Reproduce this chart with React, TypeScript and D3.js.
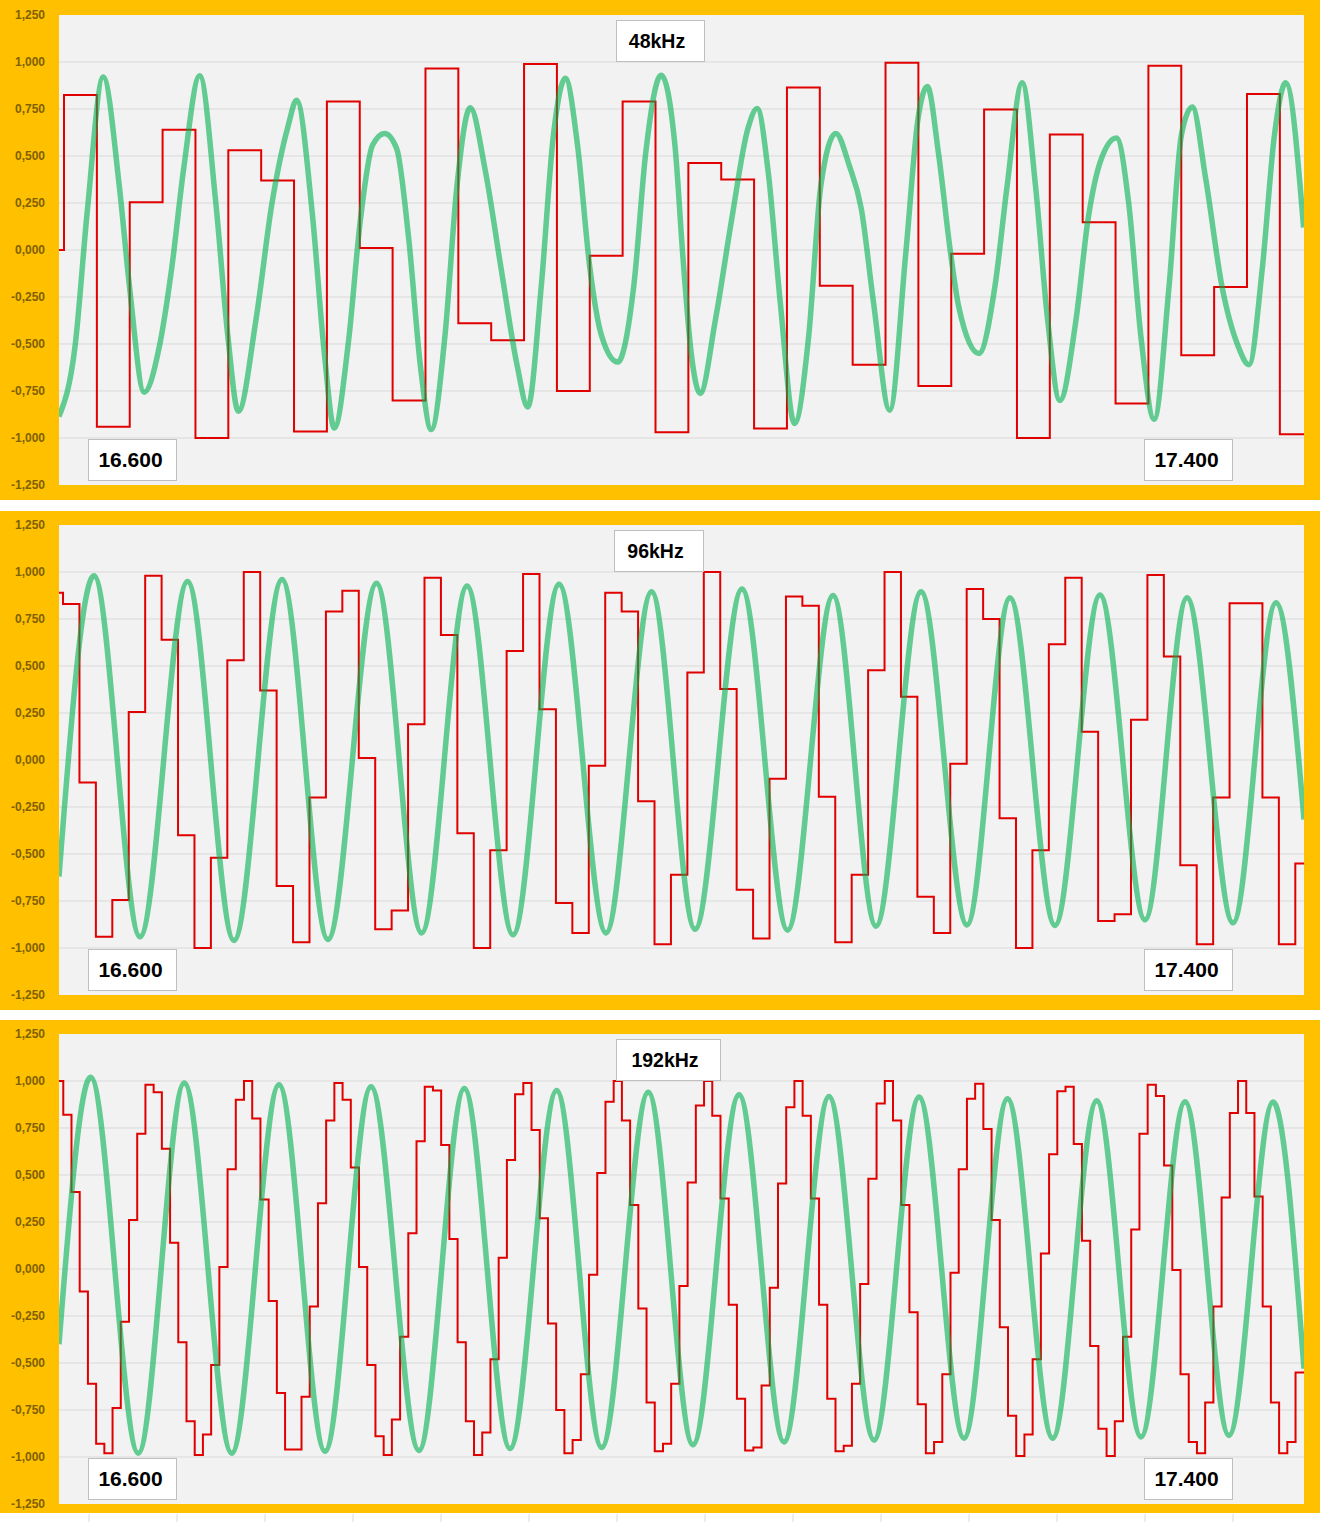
import * as d3 from 'd3';

// y axis values shared by the three panels
const yTicks = [1.25, 1, 0.75, 0.5, 0.25, 0, -0.25, -0.5, -0.75, -1, -1.25];

// held sample values (red staircase), one entry per sample
const held48 = [
  0.0, 0.824, -0.94, 0.254, 0.64, -1.0, 0.53, 0.37, -0.965, 0.79, 0.01, -0.8, 0.966, -0.39, -0.48, 0.99,
  -0.75, -0.03, 0.79, -0.97, 0.463, 0.375, -0.95, 0.865, -0.19, -0.61, 0.996, -0.724, -0.02, 0.747, -1.0,
  0.614, 0.148, -0.817, 0.98, -0.56, -0.197, 0.83, -0.98,
];
const held96 = [
  0.89, 0.83, -0.12, -0.94, -0.745, 0.255, 0.98, 0.64, -0.4, -1.0, -0.52, 0.53, 1.0, 0.37, -0.67, -0.97,
  -0.2, 0.79, 0.9, 0.01, -0.9, -0.8, 0.19, 0.97, 0.665, -0.39, -1.0, -0.48, 0.58, 0.99, 0.27, -0.76, -0.92,
  -0.03, 0.89, 0.79, -0.22, -0.98, -0.61, 0.466, 1.0, 0.377, -0.69, -0.95, -0.1, 0.87, 0.82, -0.195, -0.97,
  -0.61, 0.477, 1.0, 0.336, -0.727, -0.92, -0.02, 0.91, 0.75, -0.31, -1.0, -0.48, 0.616, 0.97, 0.15, -0.857,
  -0.82, 0.214, 0.984, 0.55, -0.56, -0.98, -0.2, 0.834, 0.834, -0.2, -0.98, -0.55,
];
const held192 = [
  1.0, 0.82, 0.41, -0.12, -0.61, -0.93, -0.98, -0.74, -0.28, 0.26, 0.72, 0.98, 0.94, 0.64, 0.14, -0.39,
  -0.81, -0.99, -0.88, -0.51, 0.01, 0.53, 0.9, 1.0, 0.8, 0.37, -0.17, -0.66, -0.96, -0.96, -0.68, -0.2,
  0.35, 0.79, 0.99, 0.9, 0.54, 0.01, -0.51, -0.89, -0.99, -0.8, -0.36, 0.19, 0.68, 0.97, 0.95, 0.66, 0.16,
  -0.39, -0.81, -0.99, -0.87, -0.48, 0.06, 0.58, 0.93, 0.99, 0.74, 0.27, -0.29, -0.75, -0.98, -0.91, -0.56,
  -0.03, 0.51, 0.89, 1.0, 0.79, 0.34, -0.21, -0.71, -0.97, -0.93, -0.61, -0.09, 0.46, 0.87, 1.0, 0.815,
  0.375, -0.19, -0.69, -0.965, -0.95, -0.62, -0.1, 0.455, 0.86, 1.0, 0.815, 0.375, -0.19, -0.69, -0.97,
  -0.94, -0.61, -0.08, 0.48, 0.88, 1.0, 0.79, 0.34, -0.23, -0.72, -0.98, -0.92, -0.56, -0.02, 0.53, 0.905,
  0.985, 0.745, 0.26, -0.31, -0.78, -0.995, -0.88, -0.48, 0.083, 0.61, 0.945, 0.97, 0.665, 0.15, -0.41,
  -0.85, -0.995, -0.81, -0.36, 0.21, 0.72, 0.98, 0.92, 0.55, -0.005, -0.56, -0.92, -0.98, -0.71, -0.2, 0.38,
  0.83, 1.0, 0.83, 0.385, -0.2, -0.71, -0.98, -0.92, -0.55,
];

// analog wave (green), time in 1/192000 s ticks from the left edge
const wave48T = [
  0, 1.96, 3.43, 5.38, 7.34, 8.57, 10.37, 12.23, 13.71, 15.17, 17.13, 19.09, 20.55, 21.83, 23.98, 25.93,
  27.89, 28.92, 30.82, 32.3, 33.51, 35.23, 36.7, 38.16, 39.63, 41.1, 42.57, 44.04, 45.31, 46.98, 48.44,
  50.06, 51.86, 53.82, 55.78, 57.06, 58.71, 60.18, 61.64, 63.12, 64.59, 66.05, 68.01, 69.97, 71.43, 73.3,
  74.99, 75.97, 76.96, 78.04, 79.91, 81.89, 83.86, 84.99, 86.33, 87.8, 89.53, 91.26, 92.73, 94.56, 96.19,
  97.66, 99.15, 101.12, 103.09, 104.57, 105.7, 107.04, 108.51, 109.5, 111.97, 113.94, 115.41, 117.24,
  118.87, 120.34, 121.83, 123.8, 125.27, 126.76, 128.73, 130.21, 131.69, 133.31, 135.13, 136.62, 137.95,
  139.58, 141.55, 143.52, 144.85, 146.47, 147.95, 149.33, 151.5,
];
const wave48V = [
  -0.885, -0.51, 0.2, 0.92, 0.34, -0.19, -0.756, -0.51, -0.1, 0.43, 0.927, 0.25, -0.457, -0.858, -0.37,
  0.25, 0.66, 0.797, 0.2, -0.55, -0.947, -0.49, 0.165, 0.557, 0.62, 0.54, 0.06, -0.635, -0.955, -0.457,
  0.34, 0.756, 0.43, -0.1, -0.617, -0.835, -0.19, 0.61, 0.913, 0.557, -0.084, -0.457, -0.596, -0.19, 0.52,
  0.93, 0.55, -0.05, -0.55, -0.763, -0.37, 0.165, 0.646, 0.753, 0.415, -0.28, -0.923, -0.457, 0.34, 0.62,
  0.45, 0.22, -0.28, -0.852, -0.01, 0.7, 0.87, 0.52, -0.01, -0.297, -0.55, -0.19, 0.34, 0.89, 0.34, -0.37,
  -0.8, -0.37, 0.165, 0.47, 0.596, 0.25, -0.457, -0.9, -0.19, 0.61, 0.76, 0.38, -0.19, -0.51, -0.61, -0.1,
  0.61, 0.89, 0.12,
];
const wave96T = [
  0, 4.26, 9.86, 15.65, 21.3, 27.15, 32.74, 38.65, 44.14, 49.67, 55.27, 60.87, 66.59, 72.13, 77.42, 83.14,
  88.69, 94.22, 99.45, 104.93, 110.53, 115.76, 121.24, 126.72, 132.2, 137.31, 142.91, 148.14, 151.55,
];
const wave96V = [
  -0.62, 0.98, -0.94, 0.95, -0.96, 0.96, -0.955, 0.94, -0.92, 0.925, -0.93, 0.935, -0.92, 0.895, -0.9, 0.91,
  -0.905, 0.875, -0.884, 0.895, -0.877, 0.863, -0.88, 0.877, -0.85, 0.863, -0.866, 0.836, -0.316,
];
const wave192T = [
  0, 3.86, 9.65, 15.25, 21.02, 26.78, 32.38, 37.98, 43.82, 49.34, 54.9, 60.58, 66.06, 71.73, 77.17, 82.78,
  88.25, 93.73, 99.21, 104.69, 110.16, 115.46, 120.96, 126.32, 131.71, 137.07, 142.42, 147.78, 151.55,
];
const wave192V = [
  -0.4, 1.02, -0.98, 0.99, -0.98, 0.98, -0.97, 0.97, -0.965, 0.96, -0.955, 0.95, -0.95, 0.94, -0.935, 0.927,
  -0.92, 0.917, -0.91, 0.915, -0.9, 0.906, -0.9, 0.895, -0.893, 0.89, -0.885, 0.888, -0.53,
];

const startLabel = '16.600';
const endLabel = '17.400';

const SPAN = 151.55; // plot width in ticks
const PLOT_X0 = 59;
const PLOT_X1 = 1304;
const PLOT_H = 470;
const ORANGE = '#FFC000';

const fmt = d3
  .formatLocale({ decimal: ',', thousands: '.', grouping: [3], currency: ['', ''], minus: '-' })
  .format('.3f');

const panels = [
  { title: '48kHz', top: 0, bottom: 500, plotTop: 15, held: held48, step: 4, phase: 0.61, wt: wave48T, wv: wave48V, tx: 616, tw: 88 },
  { title: '96kHz', top: 511, bottom: 1010, plotTop: 525, held: held96, step: 2, phase: 0.49, wt: wave96T, wv: wave96V, tx: 614, tw: 89 },
  { title: '192kHz', top: 1020, bottom: 1513, plotTop: 1034, held: held192, step: 1, phase: 0.52, wt: wave192T, wv: wave192V, tx: 616, tw: 104 },
];

const x = d3.scaleLinear().domain([0, SPAN]).range([PLOT_X0, PLOT_X1]);

function Panel({ p, idx }: { p: (typeof panels)[number]; idx: number }) {
  const y = d3.scaleLinear().domain([-1.25, 1.25]).range([p.plotTop + PLOT_H, p.plotTop]);

  const steps: [number, number][] = p.held.map((v, i) => [i === 0 ? 0 : p.phase + (i - 1) * p.step, v]);
  steps.push([SPAN, p.held[p.held.length - 1]]);
  const red = d3
    .line<[number, number]>()
    .x((d) => x(d[0]))
    .y((d) => y(d[1]))
    .curve(d3.curveStepAfter)(steps);

  const wave = d3
    .line<number>()
    .x((d) => x(d))
    .y((_, i) => y(p.wv[i]))
    .curve(d3.curveMonotoneX)(p.wt);

  const clipId = `plot-clip-${idx}`;
  const boxY = p.plotTop + 424;

  return (
    <g>
      <rect x={0} y={p.top} width={1320} height={p.bottom - p.top} fill={ORANGE} />
      <rect x={PLOT_X0} y={p.plotTop} width={PLOT_X1 - PLOT_X0} height={PLOT_H} fill="#F2F2F2" />
      <clipPath id={clipId}>
        <rect x={PLOT_X0} y={p.plotTop} width={PLOT_X1 - PLOT_X0} height={PLOT_H} />
      </clipPath>

      {/* gridlines */}
      {yTicks.slice(1, -1).map((t) => (
        <line key={t} x1={PLOT_X0} x2={PLOT_X1} y1={y(t)} y2={y(t)} stroke="#D9D9D9" strokeWidth={1} />
      ))}

      {/* y labels */}
      {yTicks.map((t) => (
        <text
          key={t}
          x={45}
          y={y(t)}
          dy="0.35em"
          textAnchor="end"
          fontSize={12}
          fontWeight="bold"
          fill="#7F6000"
        >
          {fmt(t)}
        </text>
      ))}

      <g clipPath={`url(#${clipId})`}>
        <path d={red ?? ''} fill="none" stroke="#E00000" strokeWidth={2} />
        <path
          d={wave ?? ''}
          fill="none"
          stroke="#00B050"
          strokeOpacity={0.6}
          strokeWidth={5.5}
          strokeLinejoin="round"
        />
      </g>

      {/* title box */}
      <rect x={p.tx + 0.5} y={p.plotTop + 5.5} width={p.tw} height={41} fill="#fff" stroke="#BFBFBF" />
      <text x={p.tx + p.tw / 2 - 3} y={p.plotTop + 26} dy="0.35em" textAnchor="middle" fontSize={19.5} fontWeight="bold" fill="#000">
        {p.title}
      </text>

      {/* start / end labels */}
      <rect x={88.5} y={boxY + 0.5} width={88} height={41} fill="#fff" stroke="#BFBFBF" />
      <text x={130.5} y={boxY + 21} dy="0.35em" textAnchor="middle" fontSize={21} fontWeight="bold" fill="#000">
        {startLabel}
      </text>
      <rect x={1144.5} y={boxY + 0.5} width={88} height={41} fill="#fff" stroke="#BFBFBF" />
      <text x={1186.5} y={boxY + 21} dy="0.35em" textAnchor="middle" fontSize={21} fontWeight="bold" fill="#000">
        {endLabel}
      </text>
    </g>
  );
}

export default function App() {
  // category ticks of the axis peeking out under the last panel
  const tickX = d3.scaleLinear().domain([0, 15]).range([1, 1321]);
  const cats = d3.range(1, 15);

  return (
    <svg
      width={1320}
      height={1522}
      style={{ position: 'absolute', left: 0, top: 0, background: '#fff' }}
      fontFamily="'Liberation Sans', Arial, sans-serif"
    >
      {panels.map((p, i) => (
        <Panel key={p.title} p={p} idx={i} />
      ))}
      {cats.map((c) => (
        <line key={c} x1={tickX(c)} x2={tickX(c)} y1={1514} y2={1522} stroke="#D9D9D9" />
      ))}
    </svg>
  );
}
